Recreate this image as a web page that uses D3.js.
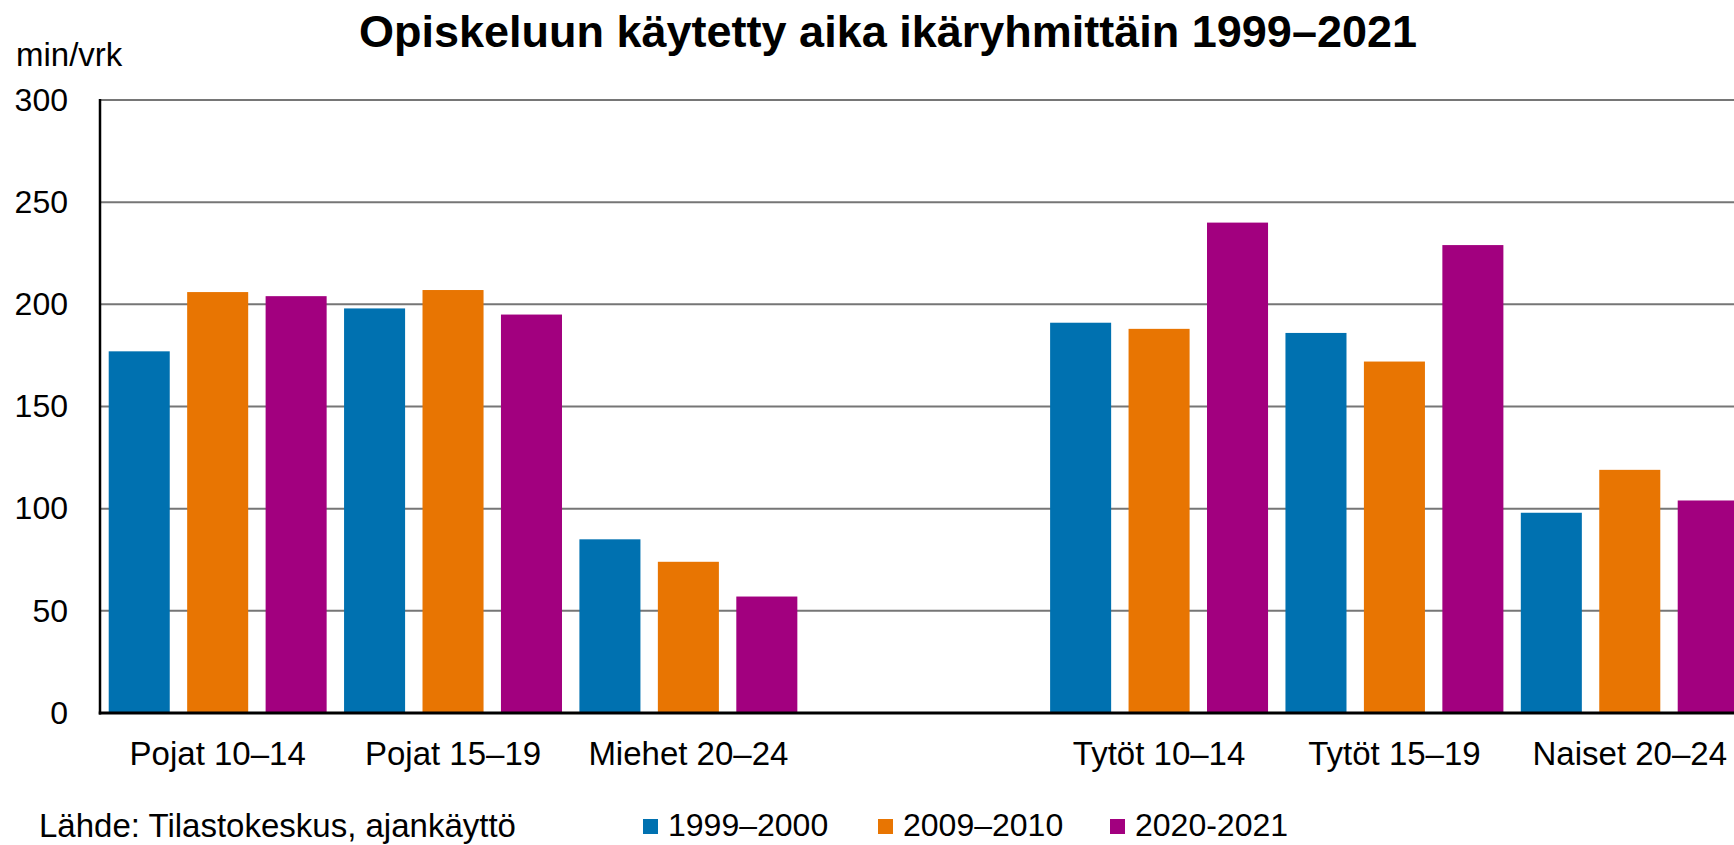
<!DOCTYPE html>
<html lang="fi">
<head>
<meta charset="utf-8">
<title>Opiskeluun käytetty aika ikäryhmittäin 1999–2021</title>
<script src="https://cdn.jsdelivr.net/npm/d3@7/dist/d3.min.js"></script>
<style>
  html, body { margin: 0; padding: 0; background: #fff; overflow: hidden; }
  #chart { width: 1734px; height: 845px; }
  text { font-family: "Liberation Sans", Arial, sans-serif; }
</style>
</head>
<body>
<div id="chart"></div>
<script>
// categories (the empty one is the gap between the two groups)
const categories = ['Pojat 10–14', 'Pojat 15–19', 'Miehet 20–24', '', 'Tytöt 10–14', 'Tytöt 15–19', 'Naiset 20–24'];
const seriesNames = ['1999–2000', '2009–2010', '2020-2021'];
const values1999 = [177, 198, 85, null, 191, 186, 98];
const values2009 = [206, 207, 74, null, 188, 172, 119];
const values2020 = [204, 195, 57, null, 240, 229, 104];
const seriesColors = ['#0071b0', '#e87502', '#a2007f'];
const yTicks = [0, 50, 100, 150, 200, 250, 300];

(function () {
  const W = 1734, H = 845;
  const plot = { left: 100, top: 100, bottom: 713 };
  const groupW = 235.35;

  const seriesValues = [values1999, values2009, values2020];
  const rows = categories.map((c, i) => ({
    category: c,
    values: seriesNames.map((s, k) => ({ series: s, value: seriesValues[k][i], color: seriesColors[k] })),
  }));

  const svg = d3.select('#chart').append('svg')
    .attr('width', W)
    .attr('height', H)
    .attr('viewBox', `0 0 ${W} ${H}`);

  const x0 = d3.scaleBand()
    .domain(categories)
    .range([plot.left, plot.left + groupW * categories.length])
    .padding(0);
  const x1 = d3.scaleBand()
    .domain(seriesNames)
    .range([0, x0.bandwidth()])
    .paddingInner(0.222)
    .paddingOuter(0.111);
  const y = d3.scaleLinear()
    .domain([0, 300])
    .range([plot.bottom, plot.top]);

  // gridlines
  svg.append('g')
    .selectAll('line')
    .data(yTicks.filter(d => d > 0))
    .join('line')
    .attr('x1', plot.left)
    .attr('x2', W)
    .attr('y1', d => y(d))
    .attr('y2', d => y(d))
    .attr('stroke', '#767676')
    .attr('stroke-width', 2);

  // bars
  svg.append('g')
    .selectAll('g')
    .data(rows)
    .join('g')
    .attr('transform', d => `translate(${x0(d.category)},0)`)
    .selectAll('rect')
    .data(d => d.values.filter(v => v.value != null))
    .join('rect')
    .attr('x', d => x1(d.series))
    .attr('y', d => y(d.value))
    .attr('width', x1.bandwidth())
    .attr('height', d => y(0) - y(d.value))
    .attr('fill', d => d.color);

  // y axis
  svg.append('g')
    .attr('transform', `translate(${plot.left},0)`)
    .call(d3.axisLeft(y).tickValues(yTicks).tickSize(0).tickPadding(32))
    .call(g => g.select('.domain').remove())
    .selectAll('text')
    .attr('fill', '#000')
    .style('font-size', '32px');

  svg.append('line')
    .attr('x1', plot.left)
    .attr('x2', plot.left)
    .attr('y1', y(300) - 1)
    .attr('y2', y(0) + 1.5)
    .attr('stroke', '#000')
    .attr('stroke-width', 2.5);

  svg.append('line')
    .attr('x1', plot.left - 1.25)
    .attr('x2', W)
    .attr('y1', y(0))
    .attr('y2', y(0))
    .attr('stroke', '#000')
    .attr('stroke-width', 3);

  // category labels
  svg.append('g')
    .selectAll('text')
    .data(categories.filter(c => c))
    .join('text')
    .attr('x', d => x0(d) + x0.bandwidth() / 2)
    .attr('y', 765)
    .attr('text-anchor', 'middle')
    .attr('font-size', '33px')
    .attr('fill', '#000')
    .text(d => d);

  // titles
  svg.append('text')
    .attr('x', 888)
    .attr('y', 47)
    .attr('text-anchor', 'middle')
    .attr('font-size', '45px')
    .attr('font-weight', 700)
    .attr('fill', '#000')
    .text('Opiskeluun käytetty aika ikäryhmittäin 1999–2021');

  svg.append('text')
    .attr('x', 16)
    .attr('y', 66)
    .attr('font-size', '33px')
    .attr('fill', '#000')
    .text('min/vrk');

  svg.append('text')
    .attr('x', 39)
    .attr('y', 837)
    .attr('font-size', '33px')
    .attr('fill', '#000')
    .text('Lähde: Tilastokeskus, ajankäyttö');

  // legend
  const legendX = [643, 878, 1110];
  const legend = svg.append('g').attr('transform', 'translate(0,836)');
  const item = legend.selectAll('g')
    .data(seriesNames)
    .join('g')
    .attr('transform', (d, i) => `translate(${legendX[i]},0)`);
  item.append('rect')
    .attr('x', 0)
    .attr('y', -17)
    .attr('width', 15)
    .attr('height', 15)
    .attr('fill', (d, i) => seriesColors[i]);
  item.append('text')
    .attr('x', 25)
    .attr('y', 0)
    .attr('font-size', '32px')
    .attr('fill', '#000')
    .text(d => d);
})();
</script>
</body>
</html>
